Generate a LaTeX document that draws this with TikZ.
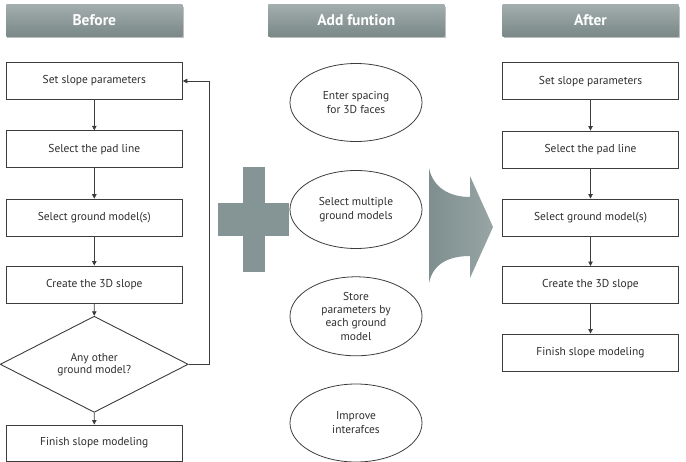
\documentclass[tikz,border=0pt]{standalone}
\usepackage{fontspec}
\setmainfont{PT Sans}
\usetikzlibrary{shapes.geometric,arrows.meta}
\definecolor{hdtop}{HTML}{A3AEAE}
\definecolor{hdbot}{HTML}{7A8888}
\definecolor{shapeg}{HTML}{859595}
\definecolor{lnc}{HTML}{3C3C3C}
\definecolor{txc}{HTML}{2E2E2E}
\tikzset{
  header/.style={draw=none, top color=hdtop, bottom color=hdbot, minimum width=176bp, minimum height=32bp,
    inner sep=0pt, text=white, font=\bfseries\fontsize{15.5}{16}\selectfont},
  flowbox/.style={draw=lnc, line width=0.9pt, fill=white, minimum width=176bp, minimum height=37bp,
    inner sep=0pt, text=txc, font=\fontsize{11.5}{13}\selectfont},
  decision/.style={diamond, draw=lnc, line width=0.9pt, fill=white, minimum width=188bp, minimum height=60bp,
    inner sep=0pt, text=txc, align=center, font=\fontsize{11.5}{13}\selectfont},
  featell/.style={ellipse, draw=lnc, line width=0.8pt, minimum width=132bp, minimum height=78bp,
    inner sep=0pt, text=txc, align=center, font=\fontsize{11.5}{14}\selectfont},
  flowarr/.style={draw=lnc, line width=0.8pt, -{Triangle[length=4.5bp,width=4.5bp]}},
  hshadow/.style={fill=black!25}
}
\begin{document}
\begin{tikzpicture}[x=1bp,y=-1bp]
\useasboundingbox (0,0) rectangle (686,462);
% header shadows
\fill[hshadow] (7,7) rectangle (184,38.5);
\fill[hshadow] (269.5,7) rectangle (446,38.5);
\fill[hshadow] (504,7) rectangle (680,38.5);
% headers
\node[header] (hbefore) at (94.3,20.3) {Before};
\node[header] (hadd) at (356.3,20.3) {Add funtion};
\node[header] (hafter) at (590.5,20.3) {After};
% left flow
\node[flowbox] (b1) at (94.3,81) {Set slope parameters};
\node[flowbox] (b2) at (94.3,149.3) {Select the pad line};
\node[flowbox] (b3) at (94.3,217.7) {Select ground model(s)};
\node[flowbox] (b4) at (94.3,284.5) {Create the 3D slope};
\node[decision] (bd) at (94.2,364.3) {Any other\\[-1pt]ground model?};
\node[flowbox, minimum height=36bp] (b5) at (94.3,443) {Finish slope modeling};
\draw[flowarr] (b1) -- (b2);
\draw[flowarr] (b2) -- (b3);
\draw[flowarr] (b3) -- (b4);
\draw[flowarr] (b4) -- (bd);
\draw[flowarr] (bd) -- (b5);
\draw[flowarr] (bd.east) -| (209,81) -- (b1.east);
% plus sign
\fill[shapeg] (242.7,166.7) rectangle (265,271.7);
\fill[shapeg] (218.3,202.7) rectangle (289.3,236);
% big arrow
\shade[left color=shapeg!95!black, right color=shapeg!85!white]
  (429,168) .. controls (433,188) and (450,197) .. (470,197) -- (470,176) -- (493,227)
  -- (470,278) -- (470,256) .. controls (450,256) and (433,263) .. (429,283) -- cycle;
% ellipses
\node[featell] (e1) at (356,102.5) {Enter spacing\\for 3D faces};
\node[featell] (e2) at (356,209.5) {Select multiple\\ground models};
\node[featell, minimum height=79bp, font=\fontsize{11.5}{13.3}\selectfont] (e3) at (356,316.3) {Store\\parameters by\\each ground\\model};
\node[featell] (e4) at (356,423) {Improve\\interafces};
% right flow
\node[flowbox] (a1) at (590.5,81.3) {Set slope parameters};
\node[flowbox] (a2) at (590.5,149.5) {Select the pad line};
\node[flowbox] (a3) at (590.5,217.5) {Select ground model(s)};
\node[flowbox] (a4) at (590.5,285) {Create the 3D slope};
\node[flowbox] (a5) at (590.5,352.5) {Finish slope modeling};
\draw[flowarr] (a1) -- (a2);
\draw[flowarr] (a2) -- (a3);
\draw[flowarr] (a3) -- (a4);
\draw[flowarr] (a4) -- (a5);
\end{tikzpicture}
\end{document}
